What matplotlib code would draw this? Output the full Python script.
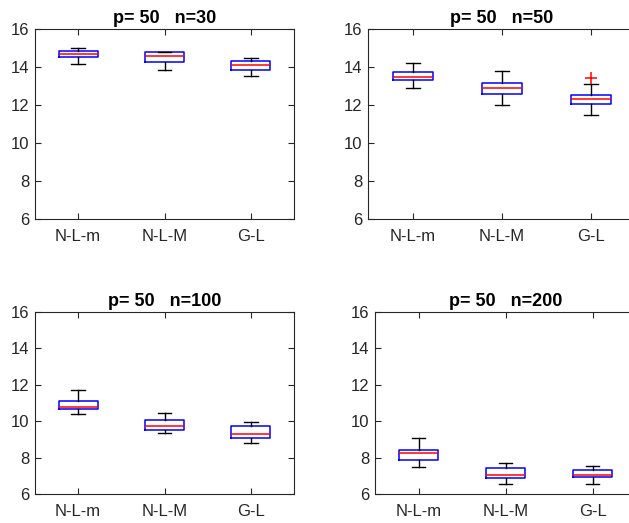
import matplotlib
matplotlib.use('Agg')
import matplotlib.pyplot as plt

plt.rcParams['font.family'] = ['Liberation Sans', 'DejaVu Sans']

methods = ['N-L-m', 'N-L-M', 'G-L']
titles = ['p= 50   n=30', 'p= 50   n=50', 'p= 50   n=100', 'p= 50   n=200']

# box stats per panel (one value per method)
whis_lo = [[14.14, 13.82, 13.51], [12.91, 11.98, 11.45], [10.38, 9.37, 8.82], [7.50, 6.57, 6.57]]
q1 = [[14.51, 14.26, 13.82], [13.33, 12.57, 12.06], [10.67, 9.50, 9.06], [7.85, 6.86, 6.92]]
med = [[14.68, 14.56, 14.09], [13.50, 12.89, 12.34], [10.76, 9.72, 9.32], [8.26, 7.03, 7.06]]
q3 = [[14.86, 14.77, 14.33], [13.73, 13.15, 12.54], [11.11, 10.08, 9.72], [8.44, 7.45, 7.34]]
whis_hi = [[14.98, 14.81, 14.49], [14.19, 13.77, 13.12], [11.73, 10.47, 9.94], [9.10, 7.71, 7.56]]
outliers = [[[], [], []], [[], [], [13.42]], [[], [], []], [[], [], []]]

W, H = 629, 523
fig = plt.figure(figsize=(W / 100, H / 100), dpi=100)

# axes boxes in pixels: left, top, right, bottom
boxes = [(35, 29, 294, 219), (368, 29, 636, 219), (35, 312, 294, 494), (375, 312, 636, 494)]
dark = '#262626'

for k, (l, t, r, b) in enumerate(boxes):
    ax = fig.add_axes([l / W, 1 - b / H, (r - l) / W, (b - t) / H])
    stats = []
    for i, m in enumerate(methods):
        stats.append(dict(label=m, whislo=whis_lo[k][i], q1=q1[k][i], med=med[k][i],
                          q3=q3[k][i], whishi=whis_hi[k][i], fliers=outliers[k][i]))
    ax.bxp(stats, positions=[1, 2, 3], widths=0.45, capwidths=0.16,
           boxprops=dict(color='blue', linewidth=1.1),
           medianprops=dict(color='red', linewidth=1.1),
           whiskerprops=dict(color='black', linewidth=1.0),
           capprops=dict(color='black', linewidth=1.0),
           flierprops=dict(marker='+', markeredgecolor='red', markersize=9, markeredgewidth=1.1))
    ax.set_xlim(0.5, 3.5)
    ax.set_ylim(6, 16)
    ax.set_yticks([6, 8, 10, 12, 14, 16])
    ax.set_xticks([1, 2, 3])
    ax.set_xticklabels(methods)
    ax.tick_params(direction='in', top=True, right=True, length=4, width=0.8,
                   labelsize=12, colors=dark)
    ax.tick_params(axis='x', pad=7)
    ax.tick_params(axis='y', pad=4)
    for s in ax.spines.values():
        s.set_color(dark)
        s.set_linewidth(0.8)
    ax.set_title(titles[k], fontsize=13, fontweight='bold', pad=4)

fig.savefig('out.png', dpi=100)
